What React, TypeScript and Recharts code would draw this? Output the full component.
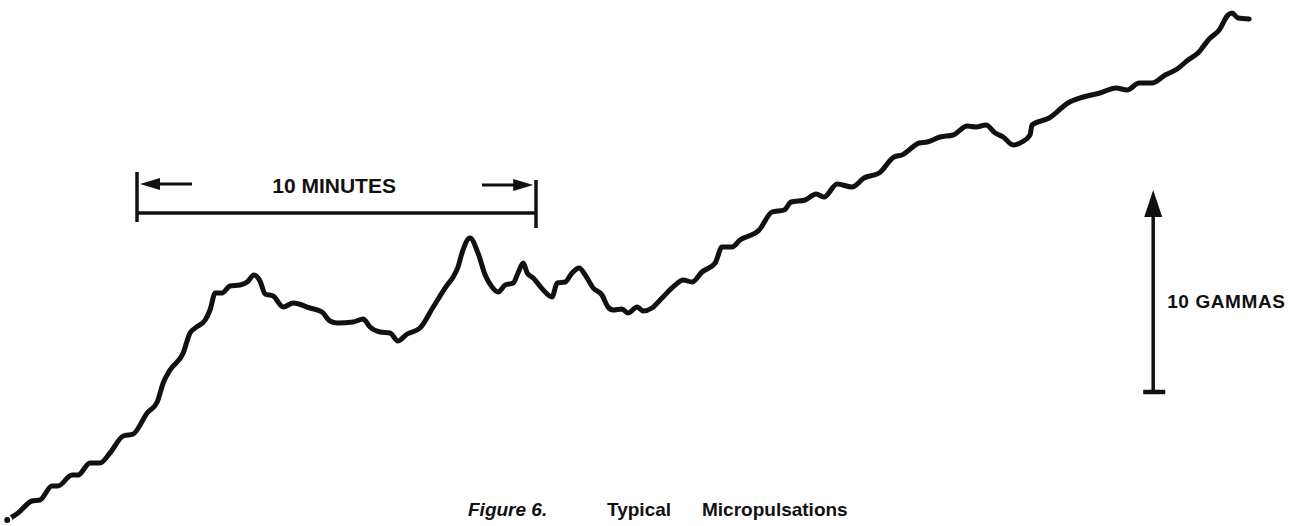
import React from 'react';
import { LineChart, Line, XAxis, YAxis, ReferenceLine, ReferenceDot } from 'recharts';

// Time (minutes from left edge) and field (gammas above baseline)
const minutes = [
  0.18, 0.45, 0.8, 1.0, 1.3, 1.45, 1.8, 1.95, 2.25, 2.5, 2.75, 3.08, 3.33, 3.68, 3.93, 4.08, 4.25, 4.58, 4.75, 4.88,
  5.13, 5.25, 5.38, 5.55, 5.75, 6.0, 6.18, 6.35, 6.5, 6.63, 6.83, 7.08, 7.33, 7.75, 8.05, 8.25, 8.43, 8.83, 9.08, 9.25,
  9.5, 9.75, 9.95, 10.18, 10.5, 10.83, 11.18, 11.33, 11.45, 11.55, 11.75, 11.95, 12.13, 12.3, 12.45, 12.63, 12.83, 12.95, 13.08, 13.18,
  13.33, 13.58, 13.8, 13.93, 14.13, 14.3, 14.48, 14.63, 14.83, 15.05, 15.2, 15.33, 15.55, 15.7, 15.93, 16.08, 16.3, 16.55, 16.88, 17.08,
  17.3, 17.55, 17.88, 18.05, 18.3, 18.5, 18.98, 19.3, 19.6, 19.78, 20.13, 20.4, 20.6, 20.93, 21.3, 21.6, 21.98, 22.35, 22.55, 22.98,
  23.18, 23.5, 23.83, 24.18, 24.4, 24.65, 24.88, 25.08, 25.33, 25.55, 25.75, 25.8, 26.23, 26.7, 27.08, 27.5, 27.9, 28.18, 28.48, 28.8,
  29.13, 29.43, 29.7, 29.95, 30.23, 30.48, 30.7, 30.8, 30.95, 31.23,
];
const gammas = [
  0.3, 0.65, 1.25, 1.3, 2.0, 2.0, 2.55, 2.55, 3.15, 3.15, 3.65, 4.5, 4.6, 5.65, 6.2, 7.15, 7.8, 8.65, 9.65, 9.9,
  10.3, 10.8, 11.65, 11.65, 12.0, 12.05, 12.2, 12.55, 12.25, 11.6, 11.5, 10.95, 11.15, 10.9, 10.7, 10.25, 10.15, 10.2, 10.35, 9.95,
  9.7, 9.65, 9.25, 9.6, 9.9, 10.95, 12.05, 12.45, 12.95, 13.65, 14.4, 13.65, 12.55, 11.95, 11.7, 12.05, 12.15, 12.65, 13.15, 12.65,
  12.4, 11.8, 11.45, 12.15, 12.2, 12.65, 12.9, 12.55, 11.9, 11.55, 10.95, 10.8, 10.85, 10.65, 10.95, 10.75, 10.9, 11.4, 12.05, 12.3,
  12.2, 12.7, 13.15, 13.95, 13.95, 14.3, 14.8, 15.7, 15.8, 16.2, 16.3, 16.6, 16.45, 17.1, 16.95, 17.4, 17.65, 18.45, 18.55, 19.15,
  19.2, 19.45, 19.55, 20.0, 19.95, 20.05, 19.65, 19.45, 19.05, 19.2, 19.55, 20.05, 20.4, 21.15, 21.45, 21.65, 21.9, 21.8, 22.15, 22.15,
  22.55, 22.85, 23.3, 23.65, 24.35, 24.8, 25.55, 25.65, 25.4, 25.35,
];

// Scale annotations
const timeBarStart = 3.425;
const timeBarEnd = 13.4;
const timeBarLabel = '10 MINUTES';
const fieldBarX = 28.83;
const fieldBarBottom = 6.7;
const fieldBarTop = 16.8;
const fieldBarLabel = '10 GAMMAS';
const captionParts = ['Figure 6.', 'Typical', 'Micropulsations'];

const data = minutes.map((m, i) => ({ t: m, b: gammas[i] }));

const W = 1308;
const H = 526;
const FONT = '"Liberation Sans", Arial, Helvetica, sans-serif';
const INK = '#111';

const leftHead = (props: any) => {
  const { cx, cy } = props;
  return <path d={`M${cx},${cy} L${cx + 20},${cy - 6} L${cx + 20},${cy + 6} Z`} fill={INK} />;
};
const rightHead = (props: any) => {
  const { cx, cy } = props;
  return <path d={`M${cx},${cy} L${cx - 20},${cy - 6} L${cx - 20},${cy + 6} Z`} fill={INK} />;
};
const upHead = (props: any) => {
  const { cx, cy } = props;
  return <path d={`M${cx},${cy} L${cx - 9},${cy + 27} L${cx + 9},${cy + 27} Z`} fill={INK} />;
};
const minutesText = (props: any) => (
  <text x={props.cx} y={props.cy} textAnchor="middle" fontFamily={FONT} fontWeight="bold" fontSize={21} fill={INK}>
    {timeBarLabel}
  </text>
);
const gammasText = (props: any) => (
  <text x={props.cx} y={props.cy} textAnchor="start" fontFamily={FONT} fontWeight="bold" fontSize={19} letterSpacing={0.6} fill={INK}>
    {fieldBarLabel}
  </text>
);
const captionText = (props: any) => (
  <text x={props.cx} y={props.cy} fontFamily={FONT} fontWeight="bold" fontSize={19} fill={INK}>
    <tspan x={props.cx} fontStyle="italic">{captionParts[0]}</tspan>
    <tspan x={props.cx + 139}>{captionParts[1]}</tspan>
    <tspan x={props.cx + 234}>{captionParts[2]}</tspan>
  </text>
);

export default function App() {
  return (
    <div style={{ position: 'absolute', left: 0, top: 0, width: W, height: H, background: '#fff' }}>
      <LineChart width={W} height={H} data={data} margin={{ top: 0, right: 0, bottom: 0, left: 0 }}>
        <XAxis type="number" dataKey="t" domain={[0, 32.7]} hide allowDataOverflow />
        <YAxis type="number" domain={[0, 26.3]} hide allowDataOverflow />
        <Line
          type="monotone"
          dataKey="b"
          stroke={INK}
          strokeWidth={5}
          strokeLinejoin="round"
          strokeLinecap="round"
          dot={false}
          isAnimationActive={false}
        />
        {/* 10 minutes bracket */}
        <ReferenceLine segment={[{ x: timeBarStart, y: 17.7 }, { x: timeBarStart, y: 15.2 }]} stroke={INK} strokeWidth={3.5} />
        <ReferenceLine segment={[{ x: timeBarEnd, y: 17.3 }, { x: timeBarEnd, y: 14.9 }]} stroke={INK} strokeWidth={3.5} />
        <ReferenceLine segment={[{ x: timeBarStart, y: 15.65 }, { x: timeBarEnd, y: 15.65 }]} stroke={INK} strokeWidth={3.5} />
        <ReferenceLine segment={[{ x: 3.9, y: 17.1 }, { x: 4.8, y: 17.1 }]} stroke={INK} strokeWidth={3} />
        <ReferenceLine segment={[{ x: 12.05, y: 17.05 }, { x: 12.9, y: 17.05 }]} stroke={INK} strokeWidth={3} />
        <ReferenceDot x={3.5} y={17.1} r={0} shape={leftHead} />
        <ReferenceDot x={13.33} y={17.05} r={0} shape={rightHead} />
        <ReferenceDot x={(timeBarStart + timeBarEnd) / 2 - 0.06} y={16.65} r={0} shape={minutesText} />
        {/* 10 gammas bar */}
        <ReferenceLine segment={[{ x: fieldBarX, y: fieldBarBottom }, { x: fieldBarX, y: 16.1 }]} stroke={INK} strokeWidth={3.5} />
        <ReferenceLine segment={[{ x: 28.58, y: fieldBarBottom }, { x: 29.13, y: fieldBarBottom }]} stroke={INK} strokeWidth={4.5} />
        <ReferenceDot x={fieldBarX} y={fieldBarTop} r={0} shape={upHead} />
        <ReferenceDot x={29.18} y={10.9} r={0} shape={gammasText} />
        {/* caption */}
        <ReferenceDot x={11.7} y={0.5} r={0} shape={captionText} />
      </LineChart>
    </div>
  );
}
